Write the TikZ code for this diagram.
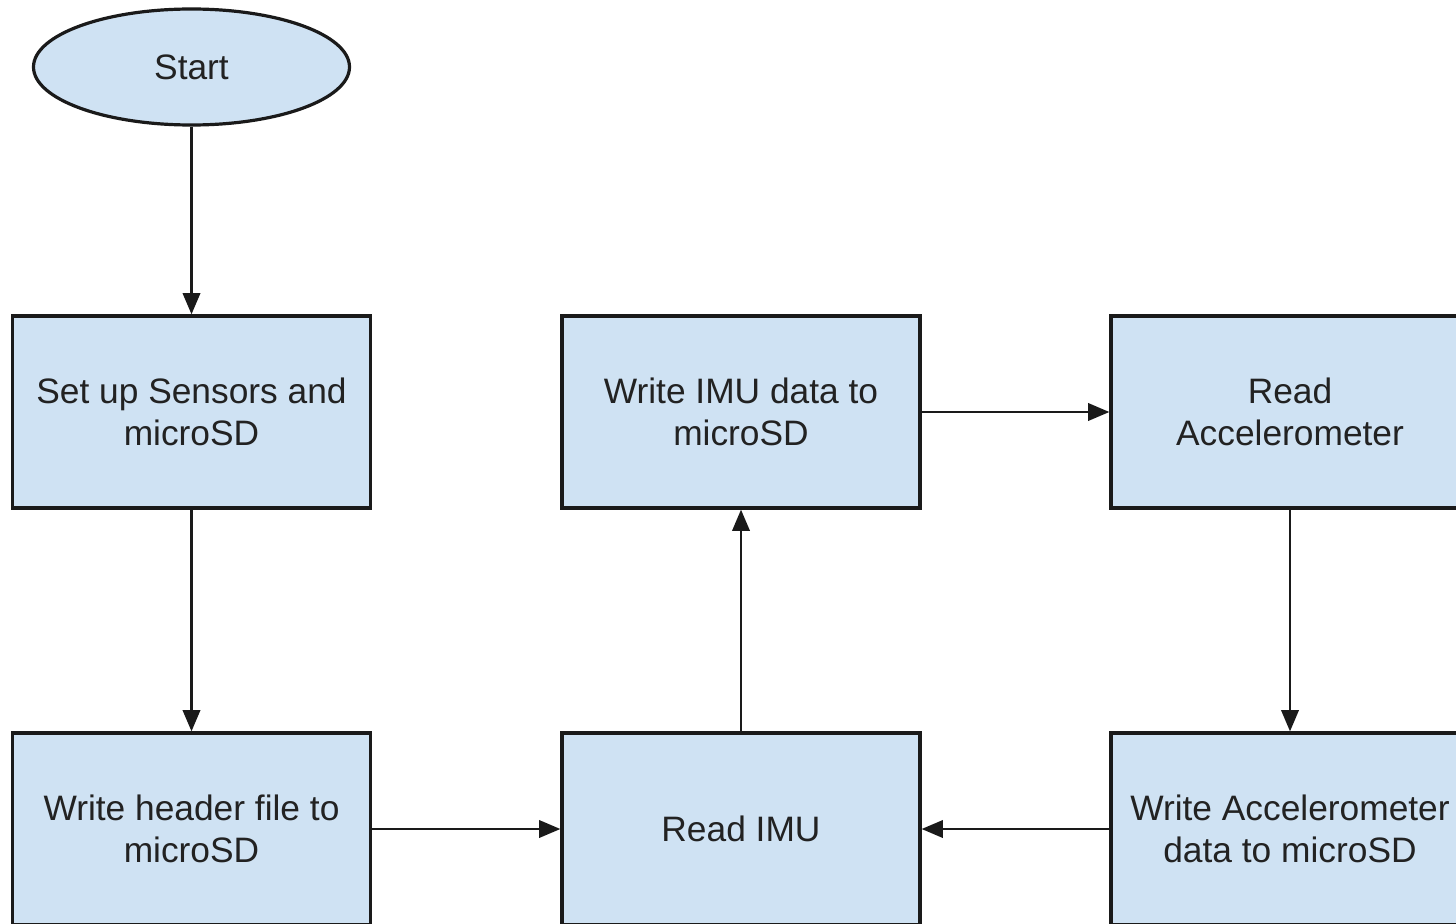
\documentclass[tikz,border=0pt]{standalone}
\usepackage{fontspec}
\setmainfont{Liberation Sans}
\usetikzlibrary{arrows.meta,shapes.geometric}
\definecolor{boxfill}{HTML}{CFE2F3}
\definecolor{txt}{HTML}{222222}
\definecolor{edge}{HTML}{1A1A1A}
\tikzset{
  procbox/.style={draw=edge, line width=2.4pt, fill=boxfill, minimum width=268.5pt, minimum height=144pt, align=center, text=txt, font=\fontsize{26.5}{31.5}\selectfont, inner sep=0pt},
  startnode/.style={ellipse, draw=edge, line width=2.4pt, fill=boxfill, minimum width=237pt, minimum height=87pt, text=txt, font=\fontsize{26.5}{31.5}\selectfont, inner sep=0pt},
  flow/.style={draw=edge, line width=2pt, -{Triangle[length=16pt,width=13pt]}}
}
\begin{document}
\begin{tikzpicture}[x=0.75pt,y=-0.75pt]
\useasboundingbox (0,0) rectangle (1456,924);
\fill[white] (0,0) rectangle (1456,924);
\clip (0,0) rectangle (1456,924);
\node[startnode] (start) at (191.5,67) {Start};
\node[procbox] (setup) at (191.5,412) {Set up Sensors and\\microSD};
\node[procbox] (header) at (191.5,829) {Write header file to\\microSD};
\node[procbox] (writeimu) at (741,412) {Write IMU data to\\microSD};
\node[procbox] (readimu) at (741,829) {Read IMU};
\node[procbox] (readacc) at (1290,412) {Read\\Accelerometer};
\node[procbox] (writeacc) at (1290,829) {Write Accelerometer\\data to microSD};
\draw[flow] (start) -- (setup);
\draw[flow] (setup) -- (header);
\draw[flow] (header) -- (readimu);
\draw[flow] (readimu) -- (writeimu);
\draw[flow] (writeimu) -- (readacc);
\draw[flow] (readacc) -- (writeacc);
\draw[flow] (writeacc) -- (readimu);
\end{tikzpicture}
\end{document}
